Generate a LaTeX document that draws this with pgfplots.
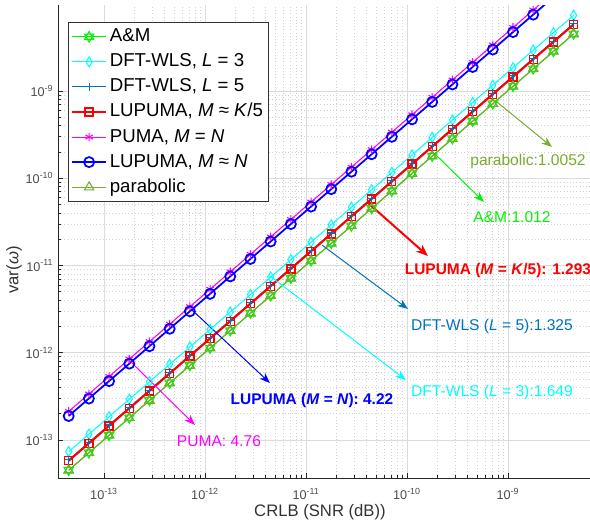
\documentclass[border=0pt]{standalone}
\usepackage{fontspec}
\setmainfont{Liberation Sans}
\usepackage{pgfplots}
\pgfplotsset{compat=1.18}
\usepackage{pgfplotstable}
\usetikzlibrary{arrows.meta}

\definecolor{amg}{rgb}{0,0.95,0}
\definecolor{parg}{rgb}{0.466,0.674,0.188}
\definecolor{dftc}{rgb}{0,1,1}
\definecolor{dftb}{rgb}{0,0.447,0.741}
\definecolor{lured}{rgb}{1,0,0}
\definecolor{pumam}{rgb}{1,0,1}
\definecolor{lublue}{rgb}{0,0,1}

\pgfdeclareplotmark{hexagram}{%
  \pgfpathmoveto{\pgfqpointpolar{90}{\pgfplotmarksize}}%
  \pgfpathlineto{\pgfqpointpolar{210}{\pgfplotmarksize}}%
  \pgfpathlineto{\pgfqpointpolar{330}{\pgfplotmarksize}}%
  \pgfpathclose
  \pgfpathmoveto{\pgfqpointpolar{270}{\pgfplotmarksize}}%
  \pgfpathlineto{\pgfqpointpolar{30}{\pgfplotmarksize}}%
  \pgfpathlineto{\pgfqpointpolar{150}{\pgfplotmarksize}}%
  \pgfpathclose
  \pgfusepathqstroke}

\pgfplotstableread{
x am d3 d5 l5 pu lN pa
4.467e-14 4.521e-14 7.366e-14 5.919e-14 5.776e-14 2.126e-13 1.885e-13 4.490e-14
7.079e-14 7.164e-14 1.167e-13 9.380e-14 9.153e-14 3.370e-13 2.987e-13 7.116e-14
1.122e-13 1.135e-13 1.850e-13 1.487e-13 1.451e-13 5.341e-13 4.735e-13 1.128e-13
1.778e-13 1.799e-13 2.932e-13 2.356e-13 2.299e-13 8.463e-13 7.503e-13 1.787e-13
2.818e-13 2.852e-13 4.647e-13 3.734e-13 3.644e-13 1.341e-12 1.189e-12 2.833e-13
4.467e-13 4.521e-13 7.366e-13 5.919e-13 5.776e-13 2.126e-12 1.885e-12 4.490e-13
7.079e-13 7.164e-13 1.167e-12 9.380e-13 9.153e-13 3.370e-12 2.987e-12 7.116e-13
1.122e-12 1.135e-12 1.850e-12 1.487e-12 1.451e-12 5.341e-12 4.735e-12 1.128e-12
1.778e-12 1.799e-12 2.932e-12 2.356e-12 2.299e-12 8.463e-12 7.503e-12 1.787e-12
2.818e-12 2.852e-12 4.647e-12 3.734e-12 3.644e-12 1.341e-11 1.189e-11 2.833e-12
4.467e-12 4.521e-12 7.366e-12 5.919e-12 5.776e-12 2.126e-11 1.885e-11 4.490e-12
7.079e-12 7.164e-12 1.167e-11 9.380e-12 9.153e-12 3.370e-11 2.987e-11 7.116e-12
1.122e-11 1.135e-11 1.850e-11 1.487e-11 1.451e-11 5.341e-11 4.735e-11 1.128e-11
1.778e-11 1.799e-11 2.932e-11 2.356e-11 2.299e-11 8.463e-11 7.503e-11 1.787e-11
2.818e-11 2.852e-11 4.647e-11 3.734e-11 3.644e-11 1.341e-10 1.189e-10 2.833e-11
4.467e-11 4.521e-11 7.366e-11 5.919e-11 5.776e-11 2.126e-10 1.885e-10 4.490e-11
7.079e-11 7.164e-11 1.167e-10 9.380e-11 9.153e-11 3.370e-10 2.987e-10 7.116e-11
1.122e-10 1.135e-10 1.850e-10 1.487e-10 1.451e-10 5.341e-10 4.735e-10 1.128e-10
1.778e-10 1.799e-10 2.932e-10 2.356e-10 2.299e-10 8.463e-10 7.503e-10 1.787e-10
2.818e-10 2.852e-10 4.647e-10 3.734e-10 3.644e-10 1.341e-9 1.189e-9 2.833e-10
4.467e-10 4.521e-10 7.366e-10 5.919e-10 5.776e-10 2.126e-9 1.885e-9 4.490e-10
7.079e-10 7.164e-10 1.167e-9 9.380e-10 9.153e-10 3.370e-9 2.987e-9 7.116e-10
1.122e-9 1.135e-9 1.850e-9 1.487e-9 1.451e-9 5.341e-9 4.735e-9 1.128e-9
1.778e-9 1.799e-9 2.932e-9 2.356e-9 2.299e-9 8.463e-9 7.503e-9 1.787e-9
2.818e-9 2.852e-9 4.647e-9 3.734e-9 3.644e-9 1.341e-8 1.189e-8 2.833e-9
4.467e-9 4.521e-9 7.366e-9 5.919e-9 5.776e-9 2.126e-8 1.885e-8 4.490e-9
}\data

\begin{document}
\begin{tikzpicture}
\path[use as bounding box] (-43.5pt,-36.75pt) rectangle (399pt,358.5pt);
\begin{axis}[
  at={(0,0)}, anchor=south west,
  scale only axis, width=399pt, height=354.75pt,
  xmode=log, ymode=log,
  xmin=3.5e-14, xmax=6.49e-9,
  ymin=3.67e-14, ymax=9.67e-9,
  axis x line*=bottom, axis y line*=left,
  axis line style={black!85, line width=0.6pt},
  tick align=inside,
  major tick length=4pt, minor tick length=2.5pt,
  tick style={black!85, line width=0.5pt},
  xtick={1e-13,1e-12,1e-11,1e-10,1e-9},
  xticklabels={10\textsuperscript{-13},10\textsuperscript{-12},10\textsuperscript{-11},10\textsuperscript{-10},10\textsuperscript{-9}},
  ytick={1e-13,1e-12,1e-11,1e-10,1e-9},
  yticklabels={10\textsuperscript{-13},10\textsuperscript{-12},10\textsuperscript{-11},10\textsuperscript{-10},10\textsuperscript{-9}},
  ticklabel style={font=\fontsize{9.5}{11}\selectfont, text=black!70},
  xticklabel style={yshift=-4pt},
  grid=both,
  major grid style={black!14, line width=0.6pt},
  minor grid style={black!18, dotted, line width=0.5pt},
  xlabel={CRLB (SNR (dB))},
  ylabel={var(\textit{ω})},
  every axis x label/.style={at={(axis description cs:0.4925,-0.0719)}, anchor=center, font=\fontsize{12.5}{15}\selectfont, text=black!80},
  every axis y label/.style={at={(axis description cs:-0.0827,0.4397)}, anchor=center, rotate=90, font=\fontsize{12.5}{15}\selectfont, text=black!80},
  legend style={at={(rel axis cs:0.0188,0.964)}, anchor=north west,
    draw=black!80, fill=white, line width=0.6pt,
    font=\fontsize{14}{16}\selectfont, row sep=1.3pt,
    inner sep=2pt,
    nodes={text height=10.5pt, text depth=3pt, inner sep=2pt}},
  legend cell align=left,
  legend image code/.code={\draw[mark repeat=2,mark phase=2,#1] plot coordinates {(0cm,0cm)(0.45cm,0cm)(0.9cm,0cm)};},
]
\addplot[color=amg, line width=0.8pt, mark=hexagram, mark size=4pt, mark options={solid}] table[x=x,y=am]{\data};
\addlegendentry{A\&M}
\addplot[color=dftc, line width=0.8pt, mark=diamond, mark size=3.8pt, mark options={solid, xscale=0.8}] table[x=x,y=d3]{\data};
\addlegendentry{DFT-WLS, \textit{L} = 3}
\addplot[color=dftb, line width=0.8pt, mark=+, mark size=3.2pt, mark options={solid}] table[x=x,y=d5]{\data};
\addlegendentry{DFT-WLS, \textit{L} = 5}
\addplot[color=lured, line width=1.5pt, mark=square, mark size=3pt, mark options={solid, line width=1pt}] table[x=x,y=l5]{\data};
\addlegendentry{LUPUMA, \textit{M} ≈ \textit{K}/5}
\addplot[color=pumam, line width=0.8pt, mark=asterisk, mark size=3.2pt, mark options={solid}] table[x=x,y=pu]{\data};
\addlegendentry{PUMA, \textit{M} = \textit{N}}
\addplot[color=lublue, line width=1.3pt, mark=o, mark size=3.8pt, mark options={solid}] table[x=x,y=lN]{\data};
\addlegendentry{LUPUMA, \textit{M} ≈ \textit{N}}
\addplot[color=parg, line width=0.8pt, mark=triangle, mark size=4pt, mark options={solid}] table[x=x,y=pa]{\data};
\addlegendentry{parabolic}

% annotations
\draw[parg, line width=0.75pt, -{Stealth[length=8pt,width=6pt]}] (rel axis cs:0.8252,0.7949) -- (rel axis cs:0.9286,0.6998);
\node[parg, font=\fontsize{11.7}{13}\selectfont] at (rel axis cs:0.8835,0.6702) {parabolic:1.0052};
\draw[amg, line width=0.75pt, -{Stealth[length=8pt,width=6pt]}] (rel axis cs:0.7086,0.6850) -- (rel axis cs:0.8008,0.5835);
\node[amg, font=\fontsize{11.7}{13}\selectfont] at (rel axis cs:0.8534,0.5518) {A\&M:1.012};
\draw[lured, line width=1.5pt, -{Stealth[length=9pt,width=7pt]}] (rel axis cs:0.5808,0.5835) -- (rel axis cs:0.6955,0.4693);
\node[lured, font=\fontsize{11.6}{13}\selectfont\bfseries] at (rel axis cs:0.827,0.4397) {LUPUMA (\textit{M} = \textit{K}/5): 1.293};
\draw[dftb, line width=0.75pt, -{Stealth[length=8pt,width=6pt]}] (rel axis cs:0.4962,0.4926) -- (rel axis cs:0.6579,0.3573);
\node[dftb, font=\fontsize{11.7}{13}\selectfont] at (rel axis cs:0.8158,0.3214) {DFT-WLS (\textit{L} = 5):1.325};
\draw[dftc, line width=0.75pt, -{Stealth[length=8pt,width=6pt]}] (rel axis cs:0.3985,0.4271) -- (rel axis cs:0.6541,0.2072);
\node[dftc, font=\fontsize{11.7}{13}\selectfont] at (rel axis cs:0.8158,0.1818) {DFT-WLS (\textit{L} = 3):1.649};
\draw[lublue, line width=0.75pt, -{Stealth[length=8pt,width=6pt]}] (rel axis cs:0.25,0.3573) -- (rel axis cs:0.3985,0.2008);
\node[lublue, font=\fontsize{11.6}{13}\selectfont\bfseries] at (rel axis cs:0.4774,0.1649) {LUPUMA (\textit{M} = \textit{N}): 4.22};
\draw[pumam, line width=0.75pt, -{Stealth[length=8pt,width=6pt]}] (rel axis cs:0.1372,0.2452) -- (rel axis cs:0.2575,0.1121);
\node[pumam, font=\fontsize{11.7}{13}\selectfont] at (rel axis cs:0.3026,0.0782) {PUMA: 4.76};
\end{axis}
\end{tikzpicture}
\end{document}
